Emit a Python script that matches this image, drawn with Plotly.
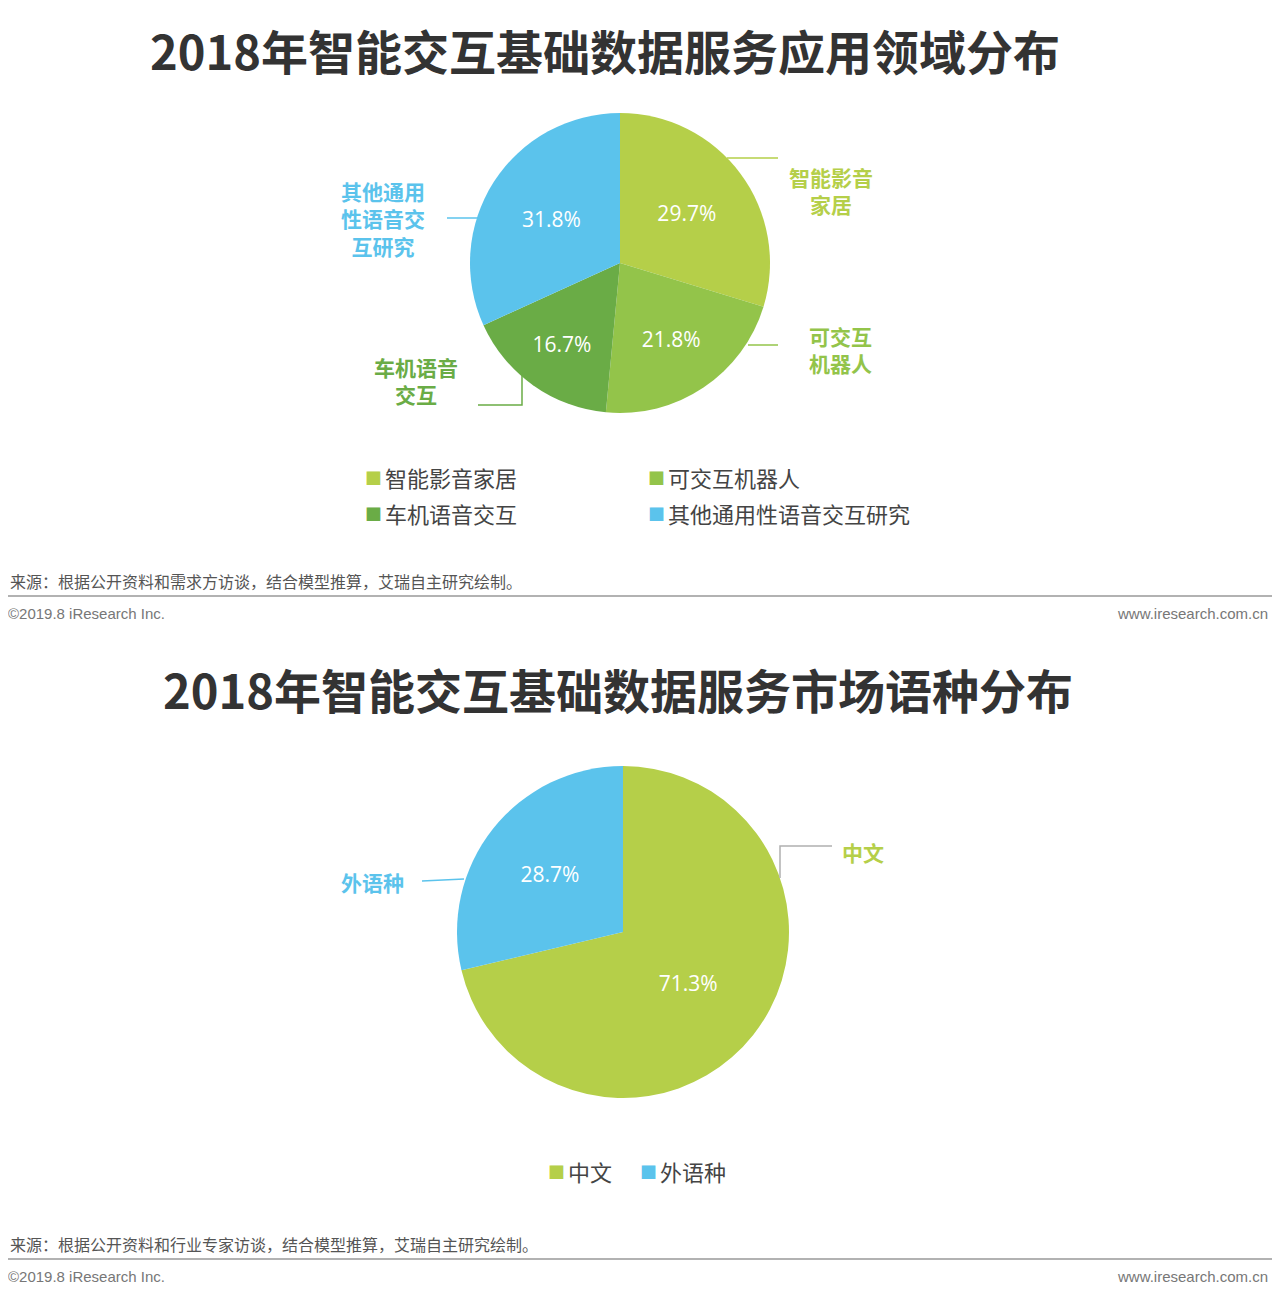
import plotly.graph_objects as go

W, H = 1280, 1316
cats1 = ["智能影音家居", "可交互机器人", "车机语音交互", "其他通用性语音交互研究"]
vals1 = [29.7, 21.8, 16.7, 31.8]
cols1 = ["#B5CF49", "#93C44A", "#6AAC46", "#5BC3EC"]
cats2 = ["中文", "外语种"]
vals2 = [71.3, 28.7]
cols2 = ["#B5CF49", "#5BC3EC"]

OFF = 8
def px(x): return (x - OFF) / W
def py(y): return 1 - (y - OFF) / H

FONT = "Noto Sans CJK SC"
fig = go.Figure()
fig.add_trace(go.Pie(labels=cats1, values=vals1, sort=False, direction="clockwise", rotation=0,
                     marker=dict(colors=cols1), texttemplate="%{value}%", textinfo="text",
                     textfont=dict(color="white", size=21, family="Open Sans"), showlegend=False,
                     domain=dict(x=[px(470), px(770)], y=[py(413), py(113)]), hoverinfo="label+value"))
fig.add_trace(go.Pie(labels=cats2, values=vals2, sort=False, direction="clockwise", rotation=0,
                     marker=dict(colors=cols2), texttemplate="%{value}%", textinfo="text",
                     textfont=dict(color="white", size=21, family="Open Sans"), showlegend=False,
                     domain=dict(x=[px(457), px(789)], y=[py(1098), py(766)]), hoverinfo="label+value"))

ann = []
shapes = []
def text(x, y, t, size, color, bold=False, anchor="center", fam=FONT):
    ann.append(dict(x=px(x), y=py(y), xref="paper", yref="paper", text=("<b>%s</b>" % t) if bold else t,
                    showarrow=False, xanchor=anchor, yanchor="middle",
                    font=dict(size=size, color=color, family=fam)))
def line(pts, color):
    path = "M " + " L ".join("%f,%f" % (px(a), py(b)) for a, b in pts)
    shapes.append(dict(type="path", path=path, xref="paper", yref="paper", line=dict(color=color, width=1.5)))

text(605, 50, "2018年智能交互基础数据服务应用领域分布", 47, "#333333", True)
text(618, 688, "2018年智能交互基础数据服务市场语种分布", 47, "#333333", True)

# pie1 callouts
text(831, 190, "智能影音<br>家居", 21, cols1[0], True)
line([(727, 158), (778, 158)], cols1[0])
text(840, 349, "可交互<br>机器人", 21, cols1[1], True)
line([(748, 345), (778, 345)], cols1[1])
text(416, 380, "车机语音<br>交互", 21, cols1[2], True)
line([(522, 372), (522, 405), (478, 405)], cols1[2])
text(383, 219, "其他通用<br>性语音交<br>互研究", 21, cols1[3], True)
line([(447, 218), (478, 218)], cols1[3])
# pie2 callouts
text(863, 852, "中文", 21, cols2[0], True)
line([(780, 878), (780, 846), (832, 846)], "#B0B0B0")
text(372, 882, "外语种", 21, cols2[1], True)
line([(422, 881), (464, 879)], cols2[1])

# legends
leg1 = [(363, 477, 0), (646, 477, 1), (363, 513, 2), (646, 513, 3)]
for x, y, i in leg1:
    text(x, y, "■", 17, cols1[i], anchor="left")
    text(x + 20, y, cats1[i], 22, "#444444", anchor="left")
for x, i in [(546, 0), (638, 1)]:
    text(x, 1171, "■", 17, cols2[i], anchor="left")
    text(x + 20, 1171, cats2[i], 22, "#444444", anchor="left")

# footers
for ys, yl, yc, src in [(581, 596, 613, "来源：根据公开资料和需求方访谈，结合模型推算，艾瑞自主研究绘制。"),
                        (1244, 1259, 1276, "来源：根据公开资料和行业专家访谈，结合模型推算，艾瑞自主研究绘制。")]:
    text(8, ys, src, 16, "#555555", anchor="left")
    shapes.append(dict(type="line", xref="paper", yref="paper", x0=px(5), x1=px(1275), y0=py(yl), y1=py(yl),
                       line=dict(color="#999999", width=1.5)))
    text(6, yc, "©2019.8 iResearch Inc.", 15, "#777777", anchor="left", fam="Liberation Sans")
    text(1270, yc, "www.iresearch.com.cn", 15, "#777777", anchor="right", fam="Liberation Sans")

fig.update_layout(width=W, height=H, margin=dict(l=0, r=0, t=0, b=0), paper_bgcolor="white",
                  plot_bgcolor="white", annotations=ann, shapes=shapes, showlegend=False)
fig.write_html("out.html")
